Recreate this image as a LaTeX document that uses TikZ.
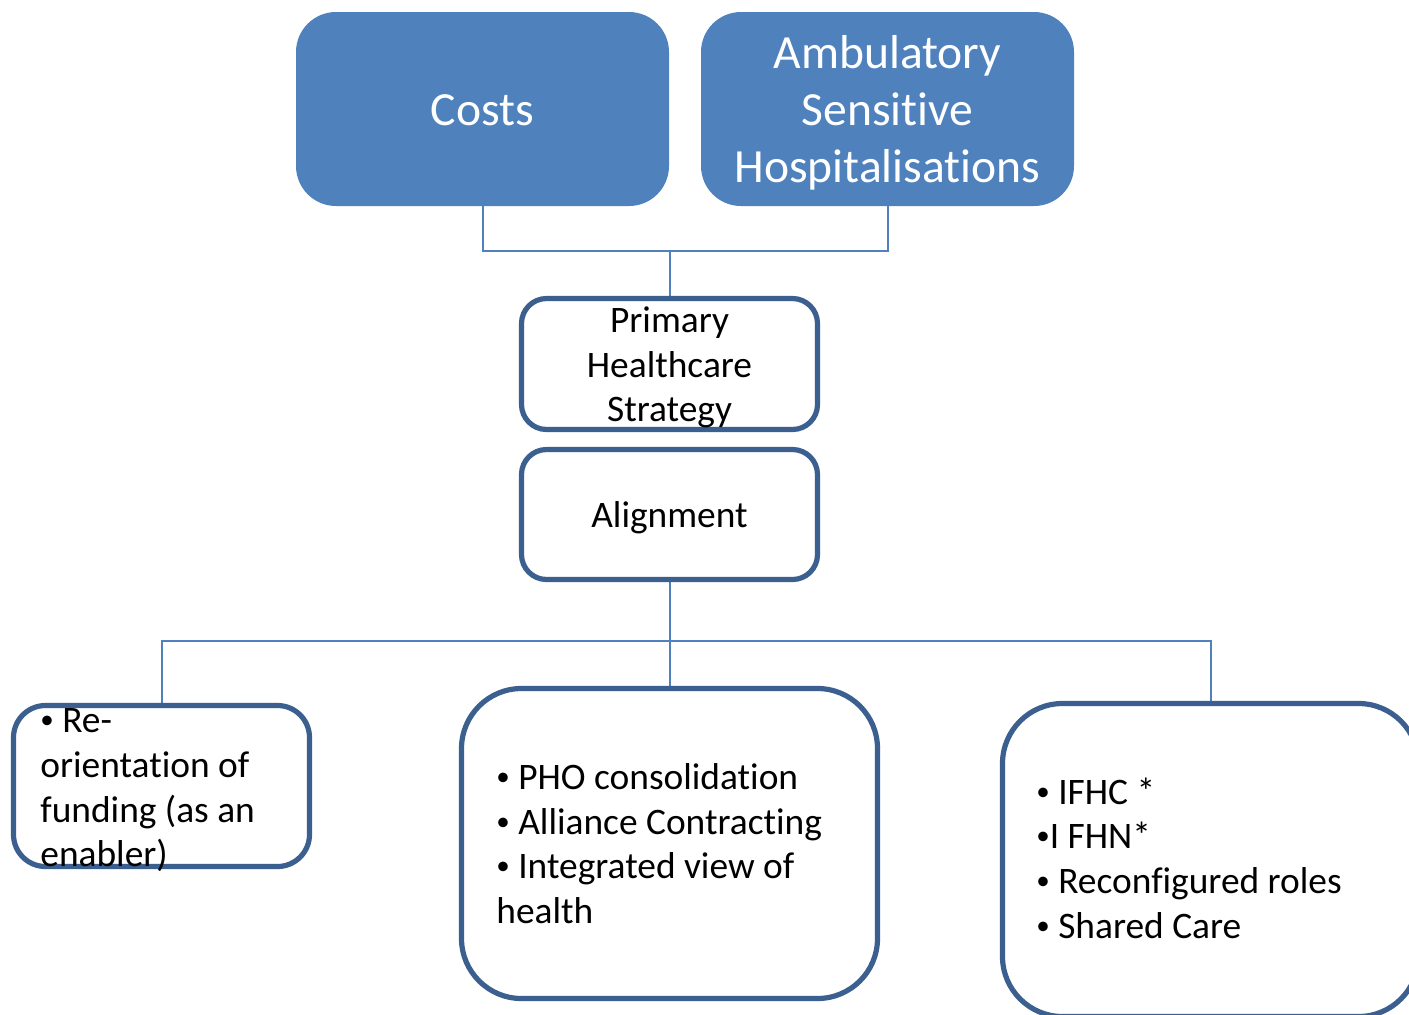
\documentclass[tikz,border=0pt]{standalone}
\usepackage{fontspec}
\setmainfont{Carlito}[Ligatures=NoCommon]
\definecolor{fillblue}{HTML}{4F81BD}
\definecolor{edgeblue}{HTML}{3B5F8F}
\definecolor{linkblue}{HTML}{4F81BD}
\newcommand{\bul}{\raisebox{1.6pt}{\fontsize{13.5pt}{13.5pt}\selectfont •}}
\tikzset{
  topbox/.style={draw=none, fill=fillblue, rounded corners=20pt, inner sep=0pt, outer sep=0pt,
    minimum width=186.5pt, minimum height=97pt},
  wbox/.style={draw=edgeblue, line width=2.6pt, fill=white, inner sep=0pt, outer sep=0pt},
  link/.style={draw=linkblue, line width=1pt},
  toptxt/.style={text=white, font=\fontsize{23.8pt}{28.5pt}\selectfont, inner sep=0pt, anchor=base},
  txt/.style={text=black, font=\fontsize{18.7pt}{22.5pt}\selectfont, inner sep=0pt},
}
\begin{document}
\begin{tikzpicture}[x=0.5pt,y=-0.5pt]
\useasboundingbox (0,0) rectangle (1409,1014);
% top boxes
\node[topbox] (costs) at (482.5,109) {};
\node[topbox] (ash) at (887.5,109) {};
% junctions
\coordinate (j1) at (669.5,251);
\coordinate (j2) at (669.5,641);
% connectors (drawn below boxes)
\draw[link] (costs.south) |- (j1) -| (ash.south);
\draw[link] (j1) -- (669.5,300);
\draw[link] (669.5,580) -- (j2);
\draw[link] (161.5,710) |- (j2) -| (1210.5,708);
\draw[link] (j2) -- (669.5,692);
% white boxes
\node[wbox, rounded corners=12.5pt, minimum width=148pt, minimum height=65.5pt] (phs) at (669.5,364) {};
\node[wbox, rounded corners=12.5pt, minimum width=148pt, minimum height=65pt] (align) at (669.5,514.5) {};
\node[wbox, rounded corners=16pt, minimum width=148pt, minimum height=80.5pt] (left) at (161.5,786) {};
\node[wbox, rounded corners=30pt, minimum width=208pt, minimum height=155pt] (mid) at (669.5,843.5) {};
\node[wbox, rounded corners=30pt, minimum width=208pt, minimum height=156.5pt] (right) at (1210.5,860) {};
% top texts
\node[toptxt] (costs-t) at (482.5,125) {Costs};
\node[toptxt] (ash-1) at (887.5,68) {Ambulatory};
\node[toptxt] (ash-2) at (887.5,125) {Sensitive};
\node[toptxt] (ash-3) at (887.5,182) {Hospitalisations};
% middle column texts
\node[txt, anchor=base] (phs-1) at (669.5,332) {Primary};
\node[txt, anchor=base] (phs-2) at (669.5,377) {Healthcare};
\node[txt, anchor=base] (phs-3) at (669.5,421) {Strategy};
\node[txt, anchor=base] (align-t) at (669.5,527) {Alignment};
% left box text
\node[txt, anchor=base west] (left-1) at (40,732) {\bul{} Re-};
\node[txt, anchor=base west] (left-2) at (40,777) {orientation of};
\node[txt, anchor=base west] (left-3) at (40,822) {funding (as an};
\node[txt, anchor=base west] (left-4) at (40,866) {enabler)};
% middle box text
\node[txt, anchor=base west] (mid-1) at (496,789) {\bul{} PHO consolidation};
\node[txt, anchor=base west] (mid-2) at (496,834) {\bul{} Alliance Contracting};
\node[txt, anchor=base west] (mid-3) at (496,878) {\bul{} Integrated view of};
\node[txt, anchor=base west] (mid-4) at (496,923) {health};
% right box text
\node[txt, anchor=base west] (right-1) at (1036,804) {\bul{} IFHC *};
\node[txt, anchor=base west] (right-2) at (1036,848) {\bul{}I FHN*};
\node[txt, anchor=base west] (right-3) at (1036,893) {\bul{} Reconfigured roles};
\node[txt, anchor=base west] (right-4) at (1036,938) {\bul{} Shared Care};
\end{tikzpicture}
\end{document}
